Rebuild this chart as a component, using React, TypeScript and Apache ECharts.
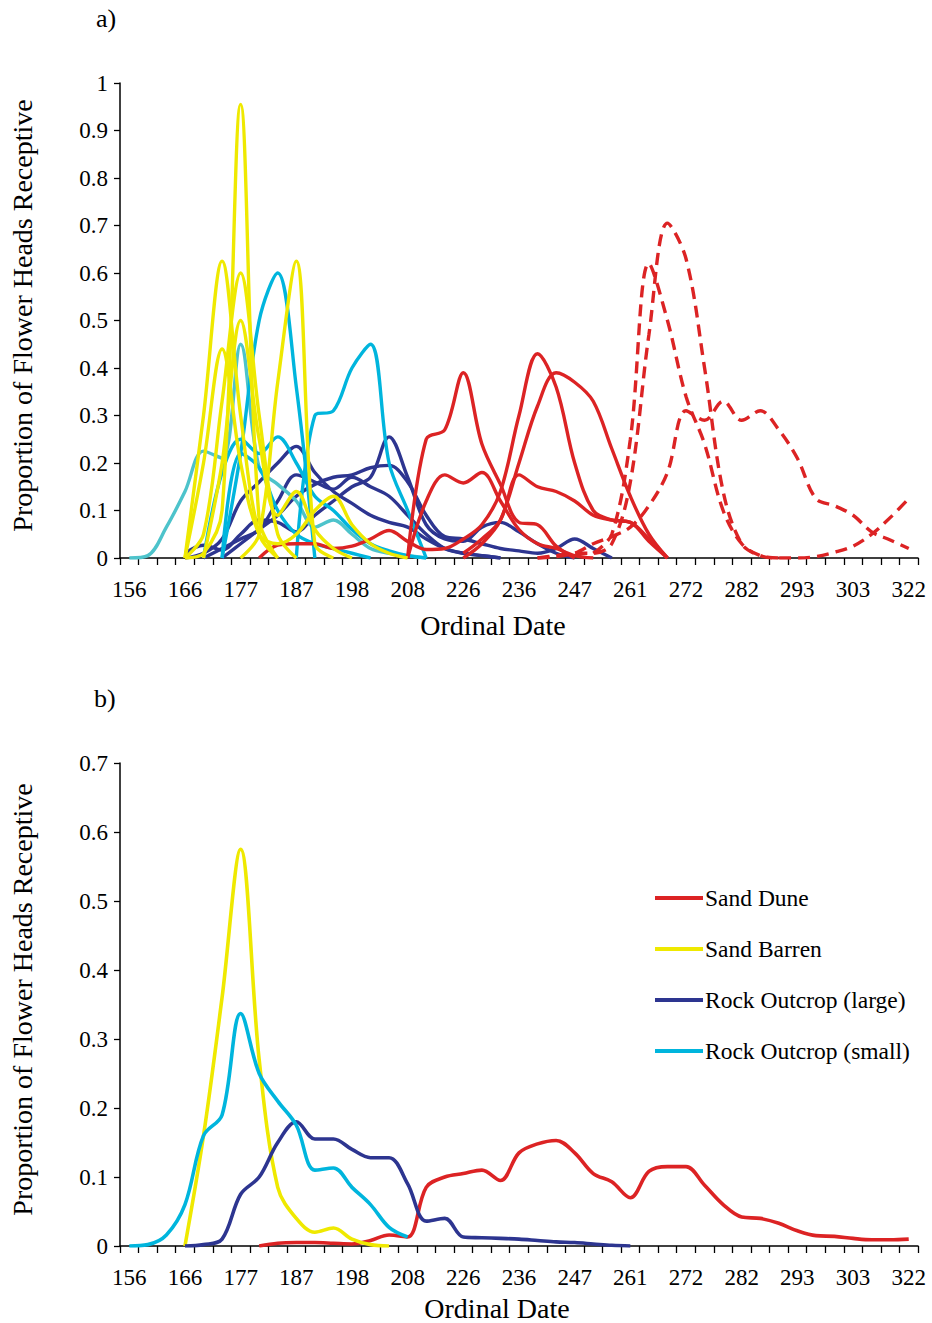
import React, { useEffect, useRef } from 'react';
import * as echarts from 'echarts';

// ---------- axis labels ----------
const tickLabels = ['156', '166', '177', '187', '198', '208', '226', '236', '247', '261', '272', '282', '293', '303', '322'];
const N_CAT = 43; // sampling dates; every third one is labelled
const categories = Array.from({ length: N_CAT }, (_, i) => (i % 3 === 0 ? tickLabels[i / 3] : ''));

const yTitle = 'Proportion of Flower Heads Receptive';
const xTitle = 'Ordinal Date';
const legendNames = ['Sand Dune', 'Sand Barren', 'Rock Outcrop (large)', 'Rock Outcrop (small)'];

// ---------- panel a: individual populations (start = first category index) ----------
const barrenA1 = { start: 3, values: [0, 0.01, 0.1, 0.955, 0.08, 0] };
const barrenA2 = { start: 3, values: [0, 0.3, 0.625, 0.3, 0.05, 0] };
const barrenA3 = { start: 3, values: [0, 0.05, 0.33, 0.6, 0.3, 0.05, 0] };
const barrenA4 = { start: 4, values: [0, 0.2, 0.5, 0.25, 0.09, 0.14, 0.06, 0.02, 0] };
const barrenA5 = { start: 3, values: [0, 0.2, 0.44, 0.2, 0.05, 0.03, 0.05, 0.1, 0.13, 0.07, 0.03, 0.01, 0] };
const barrenA6 = { start: 6, values: [0, 0.05, 0.37, 0.625, 0.03, 0] };

const smallA1 = { start: 5, values: [0, 0.22, 0.5, 0.6, 0.36, 0] };
const smallA2 = { start: 4, values: [0, 0.18, 0.25, 0.22, 0.255, 0.2, 0.13, 0.1, 0.06, 0.03, 0.015, 0.005, 0] };
const smallA3 = { start: 5, values: [0, 0.22, 0.19, 0.1, 0.05, 0.03, 0.02, 0.01, 0] };
const smallA4 = { start: 9, values: [0, 0.3, 0.31, 0.4, 0.45, 0.2, 0.1, 0] };
const smallA5 = { start: 0, values: [0, 0.005, 0.065, 0.14, 0.225, 0.21, 0.45, 0.19, 0.155, 0.12, 0.065, 0.08, 0.05, 0.02, 0.01, 0.005, 0] };

const largeA1 = { start: 3, values: [0.01, 0.027, 0.017, 0.05, 0.08, 0.075, 0.055, 0.09, 0.12, 0.15, 0.17, 0.255, 0.17, 0.07, 0.04, 0.035, 0.065, 0.075, 0.055, 0.03, 0.01, 0] };
const largeA2 = { start: 3, values: [0, 0.01, 0.04, 0.12, 0.16, 0.2, 0.235, 0.18, 0.14, 0.115, 0.09, 0.075, 0.065, 0.04, 0.02, 0.01, 0.005, 0] };
const largeA3 = { start: 4, values: [0, 0.02, 0.04, 0.06, 0.12, 0.175, 0.16, 0.145, 0.17, 0.15, 0.13, 0.09, 0.05, 0.02, 0.01, 0.005, 0] };
const largeA4 = { start: 5, values: [0, 0.03, 0.06, 0.09, 0.13, 0.155, 0.17, 0.175, 0.19, 0.195, 0.16, 0.09, 0.045, 0.04, 0.03, 0.02, 0.015, 0.01, 0.02, 0.04, 0.02, 0] };

const duneA1 = { start: 15, values: [0, 0.25, 0.27, 0.39, 0.24, 0.155, 0.075, 0.07, 0.025, 0] };
const duneA2 = { start: 7, values: [0, 0.027, 0.03, 0.03, 0.02, 0.025, 0.04, 0.058, 0.035, 0.018, 0.02, 0.04, 0.07, 0.14, 0.3, 0.43, 0.36, 0.2, 0.1, 0.08, 0.075, 0.035, 0] };
const duneA3 = { start: 18, values: [0, 0.03, 0.08, 0.2, 0.32, 0.39, 0.37, 0.33, 0.23, 0.13, 0.05, 0] };
const duneA4 = { start: 15, values: [0, 0.12, 0.175, 0.158, 0.18, 0.12, 0.06, 0.03, 0.02, 0.005, 0] };
const duneA5 = { start: 18, values: [0.01, 0.04, 0.08, 0.175, 0.15, 0.14, 0.12, 0.09, 0.08, 0.075, 0.04, 0] };
const duneLateA1 = { start: 22, values: [0, 0.005, 0.01, 0.01, 0.03, 0.16, 0.47, 0.705, 0.63, 0.4, 0.14, 0.03, 0.005, 0, 0, 0.003, 0.012, 0.025, 0.05, 0.085, 0.125] };
const duneLateA2 = { start: 25, values: [0.01, 0.05, 0.25, 0.62, 0.5, 0.34, 0.24, 0.1, 0.03, 0.005, 0] };
const duneLateA3 = { start: 22, values: [0, 0.003, 0.01, 0.03, 0.045, 0.065, 0.11, 0.18, 0.31, 0.29, 0.33, 0.29, 0.31, 0.27, 0.21, 0.125, 0.11, 0.09, 0.055, 0.038, 0.02] };

// ---------- panel b: habitat means ----------
const duneB = { start: 7, values: [0, 0.004, 0.005, 0.005, 0.004, 0.003, 0.008, 0.016, 0.013, 0.085, 0.1, 0.105, 0.11, 0.095, 0.135, 0.148, 0.153, 0.135, 0.105, 0.093, 0.07, 0.108, 0.115, 0.115, 0.088, 0.06, 0.042, 0.04, 0.033, 0.022, 0.015, 0.014, 0.011, 0.009, 0.009, 0.01] };
const barrenB = { start: 3, values: [0, 0.16, 0.36, 0.575, 0.27, 0.085, 0.04, 0.02, 0.026, 0.01, 0.002, 0] };
const largeB = { start: 3, values: [0, 0.002, 0.01, 0.075, 0.1, 0.15, 0.18, 0.155, 0.155, 0.14, 0.128, 0.128, 0.09, 0.036, 0.04, 0.013, 0.012, 0.011, 0.01, 0.008, 0.006, 0.005, 0.003, 0.001, 0] };
const smallB = { start: 0, values: [0, 0.002, 0.016, 0.06, 0.16, 0.19, 0.337, 0.25, 0.21, 0.175, 0.11, 0.113, 0.085, 0.06, 0.027, 0.013] };

// ---------- styling ----------
const RED = '#dc2324';
const YELLOW = '#efe900';
const NAVY = '#2d3590';
const CYAN = '#00b5dd';
const TEAL = '#4dc3cb';
const FONT = '"Liberation Serif", "Times New Roman", serif';
const TICK_FONT = 23;
const TITLE_FONT = 28;

type Curve = { start: number; values: number[] };

function pad(c: Curve) {
  const out: (number | null)[] = new Array(N_CAT).fill(null);
  c.values.forEach((v, i) => {
    out[c.start + i] = v;
  });
  return out;
}

function line(name: string, c: Curve, color: string, grid: number, dashed = false, width = 3.4) {
  return {
    type: 'line',
    name,
    xAxisIndex: grid,
    yAxisIndex: grid,
    data: pad(c),
    smooth: 0.35,
    showSymbol: false,
    symbol: 'none',
    silent: true,
    lineStyle: { color, width, type: dashed ? [12, 7] : 'solid', cap: 'butt' },
    itemStyle: { color },
    emphasis: { disabled: true },
  };
}

function xAxis(grid: number, nameGap: number, shift: number) {
  return {
    type: 'category',
    gridIndex: grid,
    data: categories,
    boundaryGap: true,
    axisLine: { show: true, onZero: false, lineStyle: { color: '#000', width: 1.5 } },
    axisTick: { show: true, interval: 0, alignWithLabel: false, length: 7, lineStyle: { color: '#000', width: 1.3 } },
    axisLabel: { interval: 2, margin: 20, color: '#000', fontSize: TICK_FONT, fontFamily: FONT },
    splitLine: { show: false },
    name: xTitle,
    nameLocation: 'middle',
    nameGap,
    nameTextStyle: { color: '#000', fontSize: TITLE_FONT, fontFamily: FONT, padding: [0, shift * 2, 0, 0] },
  };
}

function yAxis(grid: number, max: number) {
  return {
    type: 'value',
    gridIndex: grid,
    min: 0,
    max,
    interval: 0.1,
    axisLine: { show: true, lineStyle: { color: '#000', width: 1.5 } },
    axisTick: { show: true, length: 6, lineStyle: { color: '#000', width: 1.3 } },
    axisLabel: { margin: 12, color: '#000', fontSize: TICK_FONT, fontFamily: FONT },
    splitLine: { show: false },
    name: yTitle,
    nameLocation: 'middle',
    nameRotate: 90,
    nameGap: 84,
    nameTextStyle: { color: '#000', fontSize: TITLE_FONT, fontFamily: FONT, padding: [0, 0, 0, 10] },
  };
}

export default function App() {
  const ref = useRef<HTMLDivElement>(null);
  useEffect(() => {
    if (!ref.current) return;
    const chart = echarts.init(ref.current, undefined, { renderer: 'svg' });
    const seriesA = [
      line('a-large-1', largeA1, NAVY, 0),
      line('a-large-2', largeA2, NAVY, 0),
      line('a-large-3', largeA3, NAVY, 0),
      line('a-large-4', largeA4, NAVY, 0),
      line('a-small-5', smallA5, TEAL, 0),
      line('a-small-1', smallA1, CYAN, 0),
      line('a-small-2', smallA2, CYAN, 0),
      line('a-small-3', smallA3, CYAN, 0),
      line('a-small-4', smallA4, CYAN, 0),
      line('a-dune-1', duneA1, RED, 0),
      line('a-dune-2', duneA2, RED, 0),
      line('a-dune-3', duneA3, RED, 0),
      line('a-dune-4', duneA4, RED, 0),
      line('a-dune-5', duneA5, RED, 0),
      line('a-dune-late-1', duneLateA1, RED, 0, true),
      line('a-dune-late-2', duneLateA2, RED, 0, true),
      line('a-dune-late-3', duneLateA3, RED, 0, true),
      line('a-barren-1', barrenA1, YELLOW, 0),
      line('a-barren-2', barrenA2, YELLOW, 0),
      line('a-barren-3', barrenA3, YELLOW, 0),
      line('a-barren-4', barrenA4, YELLOW, 0),
      line('a-barren-5', barrenA5, YELLOW, 0),
      line('a-barren-6', barrenA6, YELLOW, 0),
    ];
    const seriesB = [
      line(legendNames[0], duneB, RED, 1, false, 3.6),
      line(legendNames[1], barrenB, YELLOW, 1, false, 3.6),
      line(legendNames[2], largeB, NAVY, 1, false, 3.6),
      line(legendNames[3], smallB, CYAN, 1, false, 3.6),
    ];
    chart.setOption({
      animation: false,
      backgroundColor: '#fff',
      grid: [
        { left: 120, top: 83, width: 798, height: 475, containLabel: false },
        { left: 118, top: 763, width: 800, height: 483, containLabel: false },
      ],
      xAxis: [xAxis(0, 53, 26), xAxis(1, 48, 22)],
      yAxis: [yAxis(0, 1), yAxis(1, 0.7)],
      legend: {
        data: legendNames,
        orient: 'vertical',
        left: 655,
        top: 886,
        padding: 0,
        itemGap: 27,
        itemWidth: 48,
        itemHeight: 4,
        icon: 'rect',
        selectedMode: false,
        textStyle: { color: '#000', fontSize: 23.5, fontFamily: FONT, lineHeight: 24, padding: [0, 0, 0, -3] },
      },
      graphic: [
        { type: 'text', left: 96, top: 5, style: { text: 'a)', fontSize: 26, fontFamily: FONT, fill: '#000' } },
        { type: 'text', left: 94, top: 685, style: { text: 'b)', fontSize: 26, fontFamily: FONT, fill: '#000' } },
      ],
      series: [...seriesA, ...seriesB],
    });
    return () => chart.dispose();
  }, []);
  return <div ref={ref} style={{ position: 'absolute', left: 0, top: 0, width: 932, height: 1323, background: '#fff' }} />;
}
